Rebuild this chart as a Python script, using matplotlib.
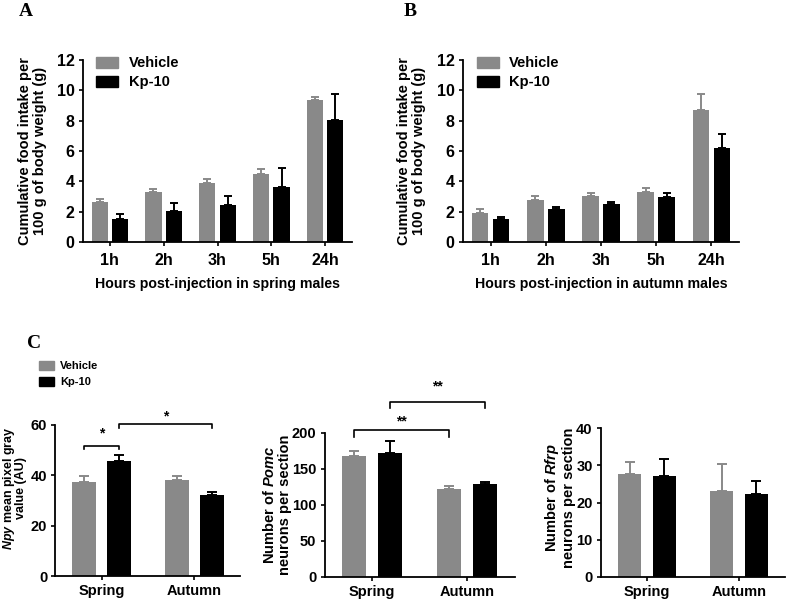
import matplotlib
matplotlib.use('Agg')
import matplotlib.pyplot as plt
from matplotlib.patches import Patch
import numpy as np

plt.rcParams['font.family'] = ['Liberation Sans', 'DejaVu Sans']
plt.rcParams['font.weight'] = 'bold'
plt.rcParams['mathtext.fontset'] = 'custom'
plt.rcParams['mathtext.it'] = 'Liberation Sans:italic:bold'
plt.rcParams['mathtext.rm'] = 'Liberation Sans:bold'

### Data
hours = ['1h', '2h', '3h', '5h', '24h']
spring_vehicle = [2.67, 3.30, 3.89, 4.50, 9.33]
spring_vehicle_sem = [0.17, 0.22, 0.24, 0.31, 0.22]
spring_kp = [1.51, 2.05, 2.45, 3.61, 8.07]
spring_kp_sem = [0.33, 0.53, 0.59, 1.24, 1.66]

autumn_vehicle = [1.90, 2.78, 3.04, 3.30, 8.72]
autumn_vehicle_sem = [0.26, 0.26, 0.22, 0.24, 1.01]
autumn_kp = [1.53, 2.16, 2.51, 2.99, 6.21]
autumn_kp_sem = [0.11, 0.18, 0.13, 0.22, 0.94]

seasons = ['Spring', 'Autumn']
npy_vehicle = [37.5, 38.0]
npy_vehicle_sem = [2.2, 1.7]
npy_kp = [45.6, 32.1]
npy_kp_sem = [2.3, 1.3]

pomc_vehicle = [168.5, 122.2]
pomc_vehicle_sem = [6.0, 4.2]
pomc_kp = [172.2, 129.2]
pomc_kp_sem = [16.7, 3.2]

rfrp_vehicle = [27.6, 23.2]
rfrp_vehicle_sem = [3.4, 7.1]
rfrp_kp = [27.2, 22.4]
rfrp_kp_sem = [4.6, 3.5]

GRAY = '#898989'
BLACK = '#000000'
W, H = 787, 601

fig = plt.figure(figsize=(W / 100, H / 100), dpi=100)


def addAxes(left, top, right, bottom):
    # pixel box -> figure fraction
    return fig.add_axes([left / W, 1 - bottom / H, (right - left) / W, (bottom - top) / H])


def styleAxes(ax, tickSize):
    for s in ['top', 'right']:
        ax.spines[s].set_visible(False)
    for s in ['left', 'bottom']:
        ax.spines[s].set_linewidth(1.3)
    ax.tick_params(direction='out', length=3, width=1.2, labelsize=tickSize, pad=3)
    for t in ax.get_xticklabels() + ax.get_yticklabels():
        t.set_fontweight('bold')


def groupedBars(ax, vals1, err1, vals2, err2, width, offset, capsize):
    x = np.arange(len(vals1))
    ax.bar(x - offset, vals1, width, color=GRAY, zorder=2)
    ax.bar(x + offset, vals2, width, color=BLACK, zorder=2)
    ax.errorbar(x - offset, vals1, yerr=[np.zeros(len(vals1)), err1], fmt='none',
                ecolor=GRAY, elinewidth=1.4, capsize=capsize, capthick=1.4, zorder=1)
    ax.errorbar(x + offset, vals2, yerr=[np.zeros(len(vals2)), err2], fmt='none',
                ecolor=BLACK, elinewidth=1.4, capsize=capsize, capthick=1.4, zorder=1)
    return x


def bracket(ax, x1, x2, y, drop, label, texty):
    ax.plot([x1, x1, x2, x2], [y - drop, y, y, y - drop], color='black', lw=1.2,
            clip_on=False)
    ax.text((x1 + x2) / 2, texty, label, ha='center', va='center', fontsize=10,
            fontweight='bold')


legend_handles = [Patch(color=GRAY), Patch(color=BLACK)]
legend_labels = ['Vehicle', 'Kp-10']

### Panels A and B
for left, right, veh, vsem, kp, ksem, xlab, letter, lx in [
        (83, 352, spring_vehicle, spring_vehicle_sem, spring_kp, spring_kp_sem,
         'Hours post-injection in spring males', 'A', 26),
        (463, 739, autumn_vehicle, autumn_vehicle_sem, autumn_kp, autumn_kp_sem,
         'Hours post-injection in autumn males', 'B', 410)]:
    ax = addAxes(left, 60, right, 242)
    x = groupedBars(ax, veh, vsem, kp, ksem, 0.3, 0.19, 2.8)
    ax.set_xlim(-0.5, 4.5)
    ax.set_ylim(0, 12)
    ax.set_yticks(range(0, 13, 2))
    ax.set_xticks(x)
    ax.set_xticklabels(hours)
    styleAxes(ax, 11.5)
    ax.tick_params(axis='x', pad=5)
    ax.set_ylabel('Cumulative food intake per\n100 g of body weight (g)', fontsize=10.5,
                  fontweight='bold', linespacing=1.1)
    ax.yaxis.set_label_coords(-0.135, 0.5)
    ax.set_xlabel(xlab, fontsize=10.2, fontweight='bold')
    ax.xaxis.set_label_coords(0.5, -0.19)
    ax.legend(legend_handles, legend_labels, loc='upper left', bbox_to_anchor=(0.05, 1.02),
              frameon=False, handlelength=1.5, handleheight=0.8,
              handletextpad=0.7, labelspacing=0.35, borderpad=0, borderaxespad=0,
              prop={'weight': 'bold', 'size': 10.5})
    fig.text(lx / W, 1 - 12 / H, letter, family='Liberation Serif', fontweight='bold',
             fontsize=14, ha='center', va='center')

### Panel C
fig.text(34 / W, 1 - 343 / H, 'C', family='Liberation Serif', fontweight='bold',
         fontsize=14, ha='center', va='center')
fig.legend(legend_handles, legend_labels, loc='upper left',
           bbox_to_anchor=(39 / W, 1 - 361 / H), frameon=False,
           handlelength=1.35, handleheight=0.85, handletextpad=0.55, labelspacing=0.5,
           borderpad=0, borderaxespad=0, prop={'weight': 'bold', 'size': 8})

c_off = 0.19
c_width = 0.26

# Npy
ax1 = addAxes(55.5, 425, 240.5, 576)
x = groupedBars(ax1, npy_vehicle, npy_vehicle_sem, npy_kp, npy_kp_sem, c_width, c_off, 3.5)
ax1.set_xlim(-0.5, 1.5)
ax1.set_ylim(0, 60)
ax1.set_yticks(range(0, 61, 20))
ax1.set_xticks(x)
ax1.set_xticklabels(seasons)
styleAxes(ax1, 10.5)
ax1.set_ylabel(r'$\it{Npy}$ mean pixel gray' + '\nvalue (AU)', fontsize=9,
               fontweight='bold', linespacing=0.85)
ax1.yaxis.set_label_coords(-0.152, 0.58)
bracket(ax1, 0 - c_off, 0 + c_off, 51.7, 1.3, '*', 56.5)
bracket(ax1, 0 + c_off, 1 + c_off, 60.4, 1.6, '*', 63.5)

# Pomc
ax2 = addAxes(324.5, 433, 514.5, 577)
x = groupedBars(ax2, pomc_vehicle, pomc_vehicle_sem, pomc_kp, pomc_kp_sem, c_width, c_off, 3.5)
ax2.set_xlim(-0.5, 1.5)
ax2.set_ylim(0, 200)
ax2.set_yticks(range(0, 201, 50))
ax2.set_xticks(x)
ax2.set_xticklabels(seasons)
styleAxes(ax2, 10.5)
ax2.set_ylabel(r'Number of $\it{Pomc}$' + '\nneurons per section', fontsize=10.5,
               fontweight='bold', linespacing=1.15)
ax2.yaxis.set_label_coords(-0.17, 0.5)
bracket(ax2, 0 - c_off, 1 - c_off, 204, 10, '**', 216)
bracket(ax2, 0 + c_off, 1 + c_off, 243, 8, '**', 264)

# Rfrp
ax3 = addAxes(601, 428, 785, 577)
x = groupedBars(ax3, rfrp_vehicle, rfrp_vehicle_sem, rfrp_kp, rfrp_kp_sem, c_width, c_off, 3.5)
ax3.set_xlim(-0.5, 1.5)
ax3.set_ylim(0, 40)
ax3.set_yticks(range(0, 41, 10))
ax3.set_xticks(x)
ax3.set_xticklabels(seasons)
styleAxes(ax3, 10.5)
ax3.set_ylabel(r'Number of $\it{Rfrp}$' + '\nneurons per section', fontsize=10.5,
               fontweight='bold', linespacing=1.15)
ax3.yaxis.set_label_coords(-0.135, 0.53)

fig.savefig('out.png', dpi=100)
